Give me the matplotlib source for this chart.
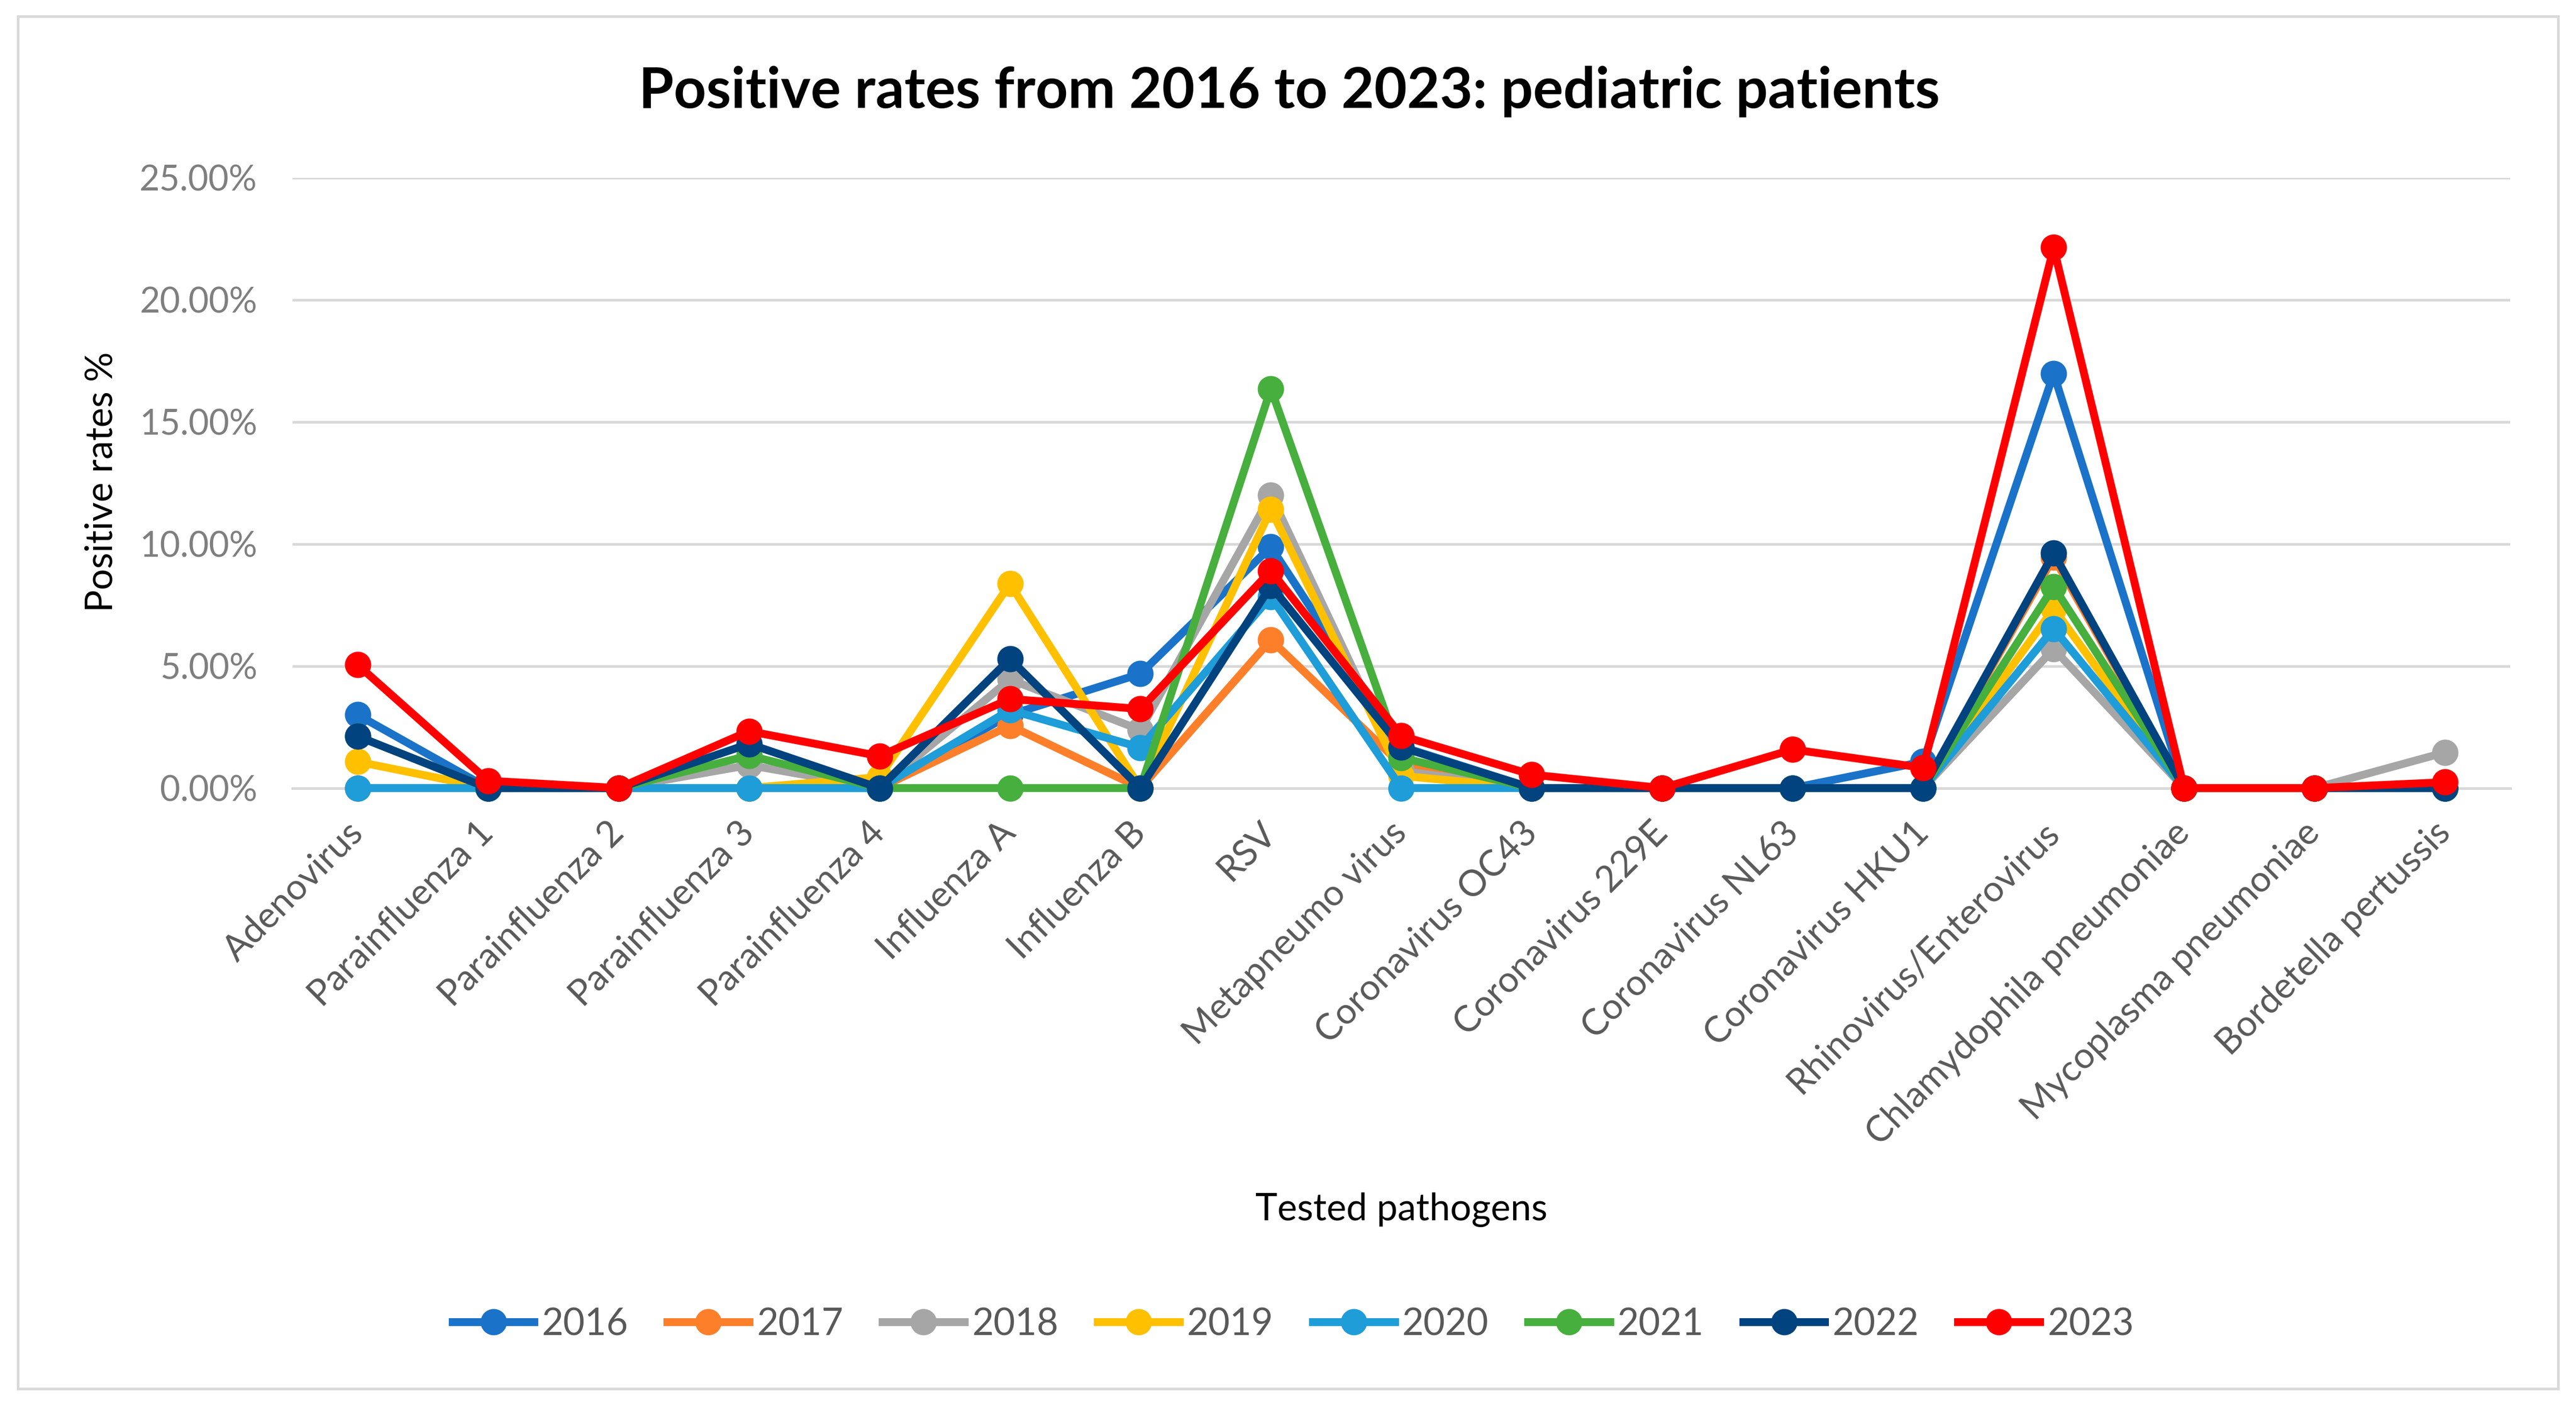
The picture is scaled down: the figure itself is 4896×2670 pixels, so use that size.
import matplotlib
matplotlib.use('Agg')
import matplotlib.pyplot as plt
from matplotlib.patches import Rectangle
from matplotlib.ticker import FuncFormatter

plt.rcParams['font.family'] = ['Lato', 'DejaVu Sans']

pathogens = ['Adenovirus', 'Parainfluenza 1', 'Parainfluenza 2', 'Parainfluenza 3',
             'Parainfluenza 4', 'Influenza A', 'Influenza B', 'RSV', 'Metapneumo virus',
             'Coronavirus OC43', 'Coronavirus 229E', 'Coronavirus NL63', 'Coronavirus HKU1',
             'Rhinovirus/Enterovirus', 'Chlamydophila pneumoniae', 'Mycoplasma pneumoniae',
             'Bordetella pertussis']

years = ['2016', '2017', '2018', '2019', '2020', '2021', '2022', '2023']

# positive rates in %
r2016 = [3.0, 0, 0, 0, 0, 3.0, 4.68, 9.88, 1.7, 0, 0, 0, 1.08, 16.98, 0, 0, 0]
r2017 = [0, 0, 0, 0, 0, 2.56, 0, 6.07, 0.95, 0, 0, 0, 0, 9.45, 0, 0, 0]
r2018 = [0, 0, 0, 0.94, 0, 4.45, 2.38, 12.0, 0.7, 0, 0, 0, 0, 5.7, 0, 0, 1.46]
r2019 = [1.08, 0, 0, 0, 0.45, 8.37, 0, 11.41, 0.5, 0, 0, 0, 0, 7.35, 0, 0, 0]
r2020 = [0, 0, 0, 0, 0, 3.2, 1.66, 7.84, 0, 0, 0, 0, 0, 6.53, 0, 0, 0]
r2021 = [2.12, 0, 0, 1.33, 0, 0, 0, 16.36, 1.24, 0, 0, 0, 0, 8.25, 0, 0, 0]
r2022 = [2.12, 0, 0, 1.81, 0, 5.29, 0, 8.28, 1.67, 0, 0, 0, 0, 9.62, 0, 0, 0]
r2023 = [5.05, 0.3, 0, 2.33, 1.31, 3.65, 3.24, 8.9, 2.14, 0.55, 0, 1.58, 0.83, 22.14, 0, 0, 0.24]

rates = [r2016, r2017, r2018, r2019, r2020, r2021, r2022, r2023]
colors = ['#1A73C8', '#FD7F2A', '#A6A6A6', '#FFC000', '#1E9DD8', '#47AF3D', '#00437E', '#FF0000']

fig = plt.figure(figsize=(16.32, 8.9), dpi=300)
ax = fig.add_axes([0.1135, 0.4391, 0.861, 0.4344])

x = list(range(len(pathogens)))
for yr, vals, c in zip(years, rates, colors):
    ax.plot(x, vals, color=c, lw=3.6, marker='o', ms=11, label=yr, clip_on=False, zorder=3)

ax.set_xlim(-0.5, len(pathogens) - 0.5)
ax.set_ylim(0, 25)
ax.set_yticks([0, 5, 10, 15, 20, 25])
ax.yaxis.set_major_formatter(FuncFormatter(lambda v, p: '%.2f%%' % v))
ax.grid(axis='y', color='#D9D9D9', lw=1.2, zorder=0)
for s in ['top', 'right', 'left']:
    ax.spines[s].set_visible(False)
ax.spines['bottom'].set_color('#D9D9D9')
ax.spines['bottom'].set_linewidth(1.2)
ax.tick_params(axis='both', length=0)
ax.tick_params(axis='y', labelsize=16, labelcolor='#7F7F7F', pad=16)
ax.set_xticks(x)
ax.set_xticklabels(pathogens, rotation=45, ha='right', va='center',
                   rotation_mode='anchor', fontsize=16.5, color='#595959')
ax.tick_params(axis='x', pad=18)

fig.text(0.5006, 0.935, 'Positive rates from 2016 to 2023: pediatric patients',
         ha='center', va='center', fontsize=25.8, fontweight='bold', color='black')
fig.text(0.0395, 0.657, 'Positive rates %', rotation=90, ha='center', va='center',
         fontsize=17, color='black')
fig.text(0.544, 0.139, 'Tested pathogens', ha='center', va='center', fontsize=17, color='black')

leg = fig.legend(loc='center', bbox_to_anchor=(0.502, 0.0574), ncol=8, frameon=False,
                 fontsize=17, handlelength=2.2, handletextpad=0.2, columnspacing=1.05)
for t in leg.get_texts():
    t.set_color('#595959')

fig.patches.append(Rectangle((0.0069, 0.0115), 0.9862, 0.977, transform=fig.transFigure,
                             fill=False, edgecolor='#D9D9D9', lw=1.2))

fig.savefig('out.png', dpi=300)
